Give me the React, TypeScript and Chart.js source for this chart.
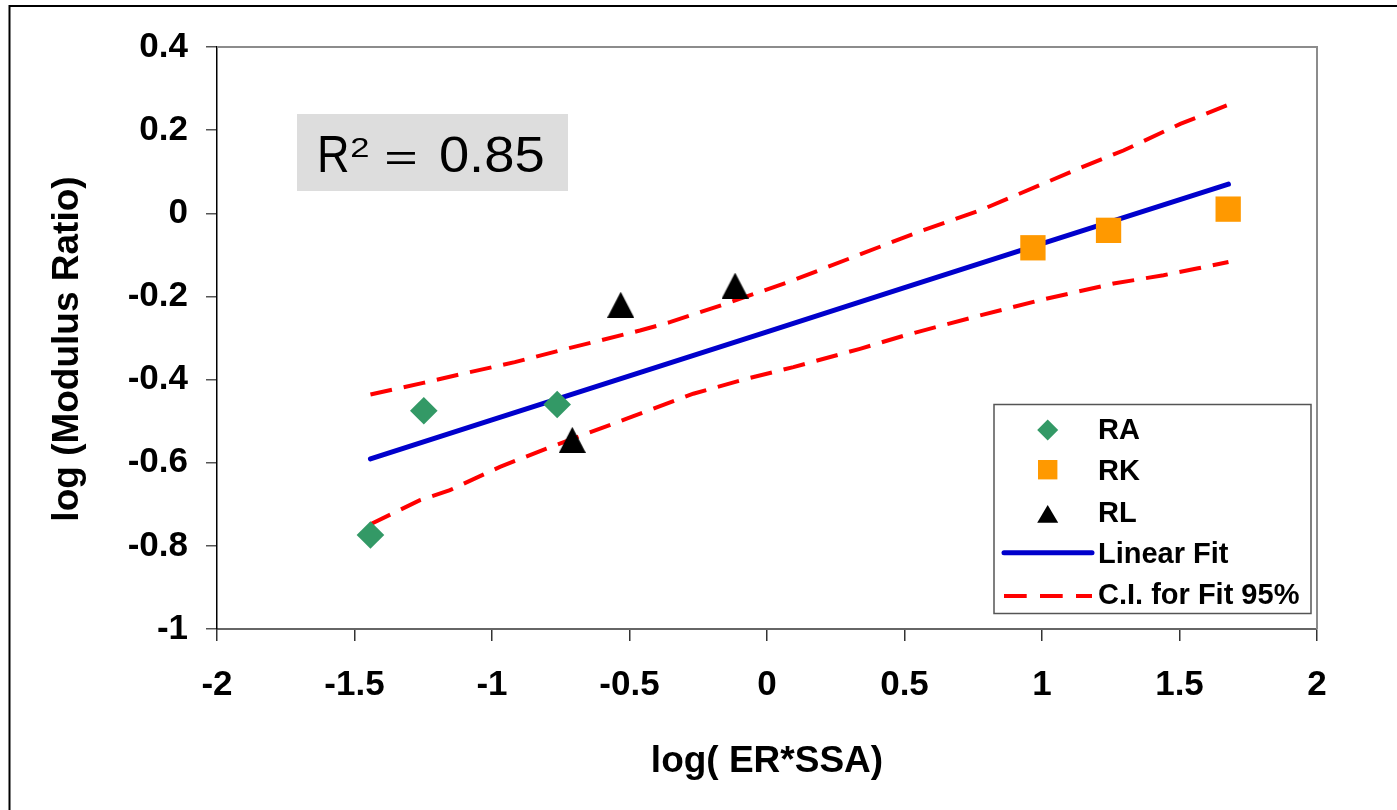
import React, { useEffect, useRef } from "react";
import { Chart, registerables } from "chart.js";

Chart.register(...registerables);

// Measured samples
const RA_X = [-1.442, -1.248, -0.763];
const RA_Y = [-0.774, -0.475, -0.46];
const RK_X = [0.967, 1.242, 1.677];
const RK_Y = [-0.083, -0.041, 0.01];
const RL_X = [-0.532, -0.116, -0.708];
const RL_Y = [-0.22, -0.174, -0.545];

// Regression line
const FIT_X = [-1.442, -1.0, -0.5, 0, 0.5, 1.0, 1.678];
const FIT_Y = [-0.591, -0.497, -0.391, -0.285, -0.179, -0.073, 0.07];

// 95% confidence band
const CI_UPPER_X = [-1.442, -1.25, -1.093, -0.917, -0.753, -0.632, -0.462, -0.353, -0.147, 0.096, 0.338, 0.55, 0.775, 1.018, 1.139, 1.296, 1.503, 1.678];
const CI_UPPER_Y = [-0.436, -0.408, -0.384, -0.358, -0.33, -0.31, -0.282, -0.262, -0.217, -0.161, -0.099, -0.045, 0.007, 0.075, 0.109, 0.151, 0.215, 0.261];
const CI_LOWER_X = [-1.442, -1.262, -1.153, -0.971, -0.802, -0.51, -0.268, -0.074, 0.096, 0.338, 0.5, 0.75, 0.993, 1.26, 1.442, 1.563, 1.678];
const CI_LOWER_Y = [-0.748, -0.69, -0.666, -0.61, -0.566, -0.494, -0.434, -0.398, -0.37, -0.326, -0.294, -0.25, -0.209, -0.169, -0.149, -0.133, -0.117];

const X_TICKS = [-2, -1.5, -1, -0.5, 0, 0.5, 1, 1.5, 2];
const X_TICK_LABELS = ["-2", "-1.5", "-1", "-0.5", "0", "0.5", "1", "1.5", "2"];
const Y_TICKS = [-1, -0.8, -0.6, -0.4, -0.2, 0, 0.2, 0.4];
const Y_TICK_LABELS = ["-1", "-0.8", "-0.6", "-0.4", "-0.2", "0", "0.2", "0.4"];

const X_TITLE = "log( ER*SSA)";
const Y_TITLE = "log (Modulus Ratio)";
const LEGEND_LABELS = ["RA", "RK", "RL", "Linear Fit", "C.I. for Fit 95%"];
const R2_TEXT = ["R", "2", "=", "0.85"];

const FONT = '"Liberation Sans", Arial, Helvetica, sans-serif';
const GREEN = "#339966";
const ORANGE = "#FF9900";
const BLUE = "#0000CC";
const RED = "#FF0000";

const pts = (xs: number[], ys: number[]) => xs.map((x, i) => ({ x, y: ys[i] }));

function makeTriangle(w: number, h: number): HTMLCanvasElement {
  const c = document.createElement("canvas");
  c.width = w;
  c.height = h;
  const g = c.getContext("2d")!;
  g.fillStyle = "#000";
  g.beginPath();
  g.moveTo(w / 2, 0);
  g.lineTo(w, h);
  g.lineTo(0, h);
  g.closePath();
  g.fill();
  return c;
}

// draw text so that its ink fills the box [left,right] x [top,bottom]
function fitBox(ctx: CanvasRenderingContext2D, text: string, font: string, left: number, right: number, top: number, bottom: number) {
  ctx.save();
  ctx.font = font;
  ctx.textAlign = "left";
  ctx.textBaseline = "alphabetic";
  const m = ctx.measureText(text);
  const inkW = m.actualBoundingBoxLeft + m.actualBoundingBoxRight;
  const inkH = m.actualBoundingBoxAscent + m.actualBoundingBoxDescent;
  const sx = (right - left) / inkW;
  const sy = (bottom - top) / inkH;
  ctx.translate(left, top);
  ctx.scale(sx, sy);
  ctx.fillText(text, m.actualBoundingBoxLeft, m.actualBoundingBoxAscent);
  ctx.restore();
}

const decorPlugin = {
  id: "decor",
  beforeDraw(chart: any) {
    const { ctx, width, height } = chart;
    ctx.save();
    ctx.fillStyle = "#fff";
    ctx.fillRect(0, 0, width, height);
    ctx.strokeStyle = "#000";
    ctx.lineWidth = 2;
    ctx.beginPath();
    ctx.moveTo(9.5, height);
    ctx.lineTo(9.5, 6);
    ctx.lineTo(width, 6);
    ctx.stroke();
    ctx.restore();
  },
  beforeDatasetsDraw(chart: any) {
    const { ctx, chartArea: a } = chart;
    ctx.save();
    ctx.strokeStyle = "#8c8c8c";
    ctx.lineWidth = 2;
    ctx.beginPath();
    ctx.moveTo(a.left, a.top);
    ctx.lineTo(a.right, a.top);
    ctx.lineTo(a.right, a.bottom);
    ctx.stroke();

    // vertical axis title
    ctx.fillStyle = "#000";
    ctx.font = `bold 37px ${FONT}`;
    ctx.textAlign = "center";
    ctx.textBaseline = "alphabetic";
    ctx.translate(77.7, 349);
    ctx.rotate(-Math.PI / 2);
    ctx.fillText(Y_TITLE, 0, 0);
    ctx.restore();
  },
  afterDraw(chart: any) {
    const { ctx } = chart;
    ctx.save();

    // R² annotation
    ctx.fillStyle = "#DDDDDD";
    ctx.fillRect(297, 114, 271, 77);
    ctx.fillStyle = "#000";
    fitBox(ctx, R2_TEXT[0], `49px ${FONT}`, 320.7, 348.3, 136.7, 171.7);
    fitBox(ctx, R2_TEXT[1], `26px ${FONT}`, 351.7, 369, 137.5, 156.7);
    fitBox(ctx, R2_TEXT[2], `49px ${FONT}`, 386.7, 416, 151.5, 163.5);
    fitBox(ctx, R2_TEXT[3], `49px ${FONT}`, 440, 543.3, 136.7, 172);

    // legend
    ctx.fillStyle = "#fff";
    ctx.fillRect(994, 404.5, 317, 209);
    ctx.strokeStyle = "#555";
    ctx.lineWidth = 1.5;
    ctx.strokeRect(994, 404.5, 317, 209);

    const mx = 1047.7;
    ctx.fillStyle = GREEN;
    ctx.beginPath();
    ctx.moveTo(mx, 419.5);
    ctx.lineTo(mx + 10.5, 430);
    ctx.lineTo(mx, 440.5);
    ctx.lineTo(mx - 10.5, 430);
    ctx.closePath();
    ctx.fill();

    ctx.fillStyle = ORANGE;
    ctx.fillRect(mx - 9.7, 460, 19.4, 19.4);

    ctx.fillStyle = "#000";
    ctx.beginPath();
    ctx.moveTo(mx, 505);
    ctx.lineTo(mx + 10.5, 522.7);
    ctx.lineTo(mx - 10.5, 522.7);
    ctx.closePath();
    ctx.fill();

    ctx.strokeStyle = BLUE;
    ctx.lineWidth = 5;
    ctx.lineCap = "round";
    ctx.beginPath();
    ctx.moveTo(1004, 552.7);
    ctx.lineTo(1092, 552.7);
    ctx.stroke();

    ctx.strokeStyle = RED;
    ctx.lineWidth = 4;
    ctx.lineCap = "butt";
    ctx.setLineDash([22.7, 13.3]);
    ctx.beginPath();
    ctx.moveTo(1004, 596);
    ctx.lineTo(1092, 596);
    ctx.stroke();
    ctx.setLineDash([]);

    ctx.fillStyle = "#000";
    ctx.font = `bold 29px ${FONT}`;
    ctx.textAlign = "left";
    ctx.textBaseline = "alphabetic";
    const baselines = [439, 480.3, 521.7, 563, 604.3];
    LEGEND_LABELS.forEach((t, i) => ctx.fillText(t, 1098, baselines[i]));
    ctx.restore();
  },
};

export default function App() {
  const ref = useRef<HTMLCanvasElement | null>(null);

  useEffect(() => {
    const canvas = ref.current;
    if (!canvas) return;
    const triangle = makeTriangle(27, 26);

    const chart = new Chart(canvas, {
      type: "scatter",
      data: {
        datasets: [
          { label: "RA", data: pts(RA_X, RA_Y), pointStyle: "rectRot", pointRadius: 13.8, backgroundColor: GREEN, borderWidth: 0 },
          { label: "RK", data: pts(RK_X, RK_Y), pointStyle: "rect", pointRadius: 17.9, backgroundColor: ORANGE, borderWidth: 0 },
          { label: "RL", data: pts(RL_X, RL_Y), pointStyle: triangle as any, pointRadius: 14, backgroundColor: "#000", borderWidth: 0 },
          { label: "Linear Fit", data: pts(FIT_X, FIT_Y), showLine: true, borderColor: BLUE, borderWidth: 5, pointRadius: 0, borderCapStyle: "round" },
          { label: "C.I. for Fit 95%", data: pts(CI_UPPER_X, CI_UPPER_Y), showLine: true, borderColor: RED, borderWidth: 4, borderDash: [22, 12], pointRadius: 0 },
          { label: "C.I. lower", data: pts(CI_LOWER_X, CI_LOWER_Y), showLine: true, borderColor: RED, borderWidth: 4, borderDash: [22, 12], pointRadius: 0 },
        ],
      },
      options: {
        responsive: false,
        animation: false,
        devicePixelRatio: 1,
        events: [],
        layout: { padding: { top: 47, right: 80, left: 0, bottom: 0 } },
        plugins: { legend: { display: false }, tooltip: { enabled: false } },
        scales: {
          x: {
            type: "linear",
            min: -2,
            max: 2,
            afterBuildTicks: (s: any) => {
              s.ticks = X_TICKS.map((v) => ({ value: v }));
            },
            afterFit: (s: any) => {
              s.height = 181;
            },
            grid: { display: true, drawOnChartArea: false, drawTicks: true, tickLength: 12, color: "#333", lineWidth: 1.5 },
            border: { display: true, color: "#666", width: 2 },
            ticks: {
              padding: 23,
              color: "#000",
              font: { family: FONT, size: 35, weight: "bold" },
              callback: (_v: any, i: number) => X_TICK_LABELS[i],
            },
            title: {
              display: true,
              text: X_TITLE,
              color: "#000",
              font: { family: FONT, size: 37, weight: "bold" },
              padding: { top: 0, bottom: 26 },
            },
          },
          y: {
            type: "linear",
            min: -1,
            max: 0.4,
            afterBuildTicks: (s: any) => {
              s.ticks = Y_TICKS.map((v) => ({ value: v }));
            },
            afterFit: (s: any) => {
              s.width = 217;
            },
            grid: { display: true, drawOnChartArea: false, drawTicks: true, tickLength: 11, color: "#555", lineWidth: 1.5 },
            border: { display: true, color: "#000", width: 1.5 },
            ticks: {
              padding: 18,
              color: "#000",
              font: { family: FONT, size: 35, weight: "bold" },
              callback: (_v: any, i: number) => Y_TICK_LABELS[i],
            },
            title: { display: false },
          },
        },
      } as any,
      plugins: [decorPlugin],
    });

    return () => chart.destroy();
  }, []);

  return (
    <div style={{ position: "absolute", left: 0, top: 0, width: 1397, height: 810, background: "#fff" }}>
      <canvas ref={ref} width={1397} height={810} style={{ display: "block" }} />
    </div>
  );
}
